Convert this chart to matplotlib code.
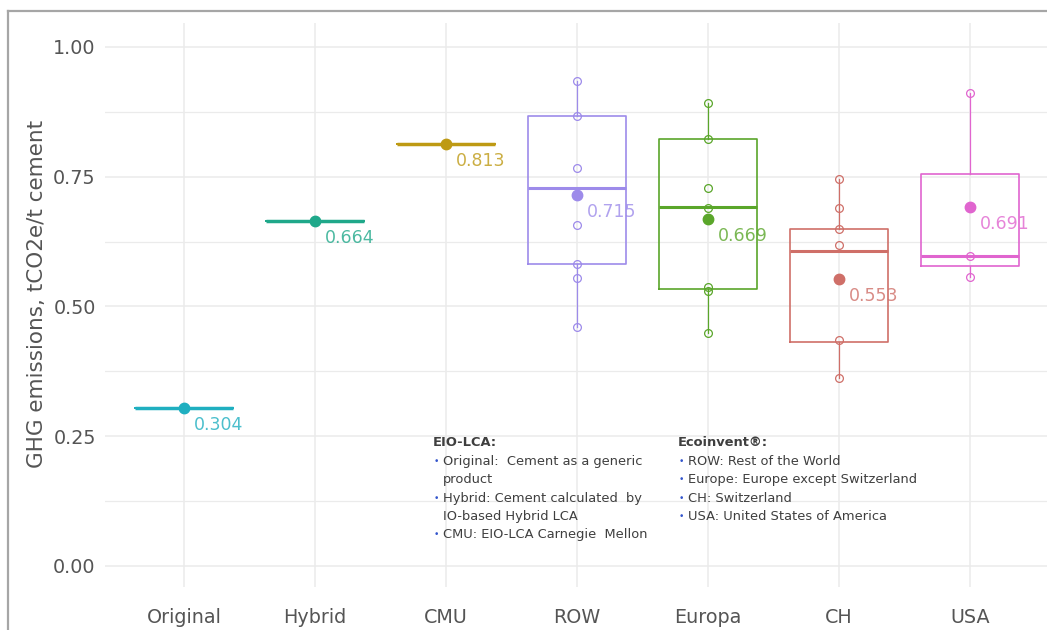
import matplotlib
matplotlib.use("Agg")
import matplotlib.pyplot as plt
from matplotlib.lines import Line2D
from matplotlib.colors import to_rgba

# ---- data -------------------------------------------------------------
categories = ["Original", "Hybrid", "CMU", "ROW", "Europa", "CH", "USA"]
means = [0.304, 0.664, 0.813, 0.715, 0.669, 0.553, 0.691]

box_q1 = [0.304, 0.664, 0.813, 0.582, 0.533, 0.431, 0.577]
box_median = [0.304, 0.664, 0.813, 0.728, 0.691, 0.606, 0.597]
box_q3 = [0.304, 0.664, 0.813, 0.866, 0.822, 0.649, 0.755]
whisker_low = [0.304, 0.664, 0.813, 0.461, 0.448, 0.362, 0.556]
whisker_high = [0.304, 0.664, 0.813, 0.935, 0.891, 0.746, 0.911]

pts_original = [0.304]
pts_hybrid = [0.664]
pts_cmu = [0.813]
pts_row = [0.935, 0.866, 0.766, 0.657, 0.582, 0.554, 0.461]
pts_europa = [0.891, 0.822, 0.729, 0.689, 0.538, 0.529, 0.448]
pts_ch = [0.746, 0.689, 0.649, 0.618, 0.435, 0.362]
pts_usa = [0.911, 0.597, 0.556]
points = [pts_original, pts_hybrid, pts_cmu, pts_row, pts_europa, pts_ch, pts_usa]

colors = ["#1FAFC0", "#1FA88A", "#BE9A14", "#9D8BEA", "#5AA62A", "#CF6F68", "#E065CF"]

y_ticks = [0.00, 0.25, 0.50, 0.75, 1.00]
y_minor = [0.125, 0.375, 0.625, 0.875]
y_label = "GHG emissions, tCO2e/t cement"

eio_header = "EIO-LCA:"
eio_lines = [("Original:  Cement as a generic", True), ("product", False),
             ("Hybrid: Cement calculated  by", True), ("IO-based Hybrid LCA", False),
             ("CMU: EIO-LCA Carnegie  Mellon", True)]
eco_header = "Ecoinvent®:"
eco_lines = [("ROW: Rest of the World", True), ("Europe: Europe except Switzerland", True),
             ("CH: Switzerland", True), ("USA: United States of America", True)]

# ---- figure -----------------------------------------------------------
W, H = 1047, 630
plt.rcParams["font.family"] = ["DejaVu Sans"]
fig = plt.figure(figsize=(W / 100, H / 100), dpi=100)
fig.patch.set_facecolor("white")

ax = fig.add_axes([105.4 / W, 43 / H, 943.2 / W, 564 / H])
ax.set_xlim(0.4, 7.6)
ax.set_ylim(-0.0405, 1.046)
for s in ax.spines.values():
    s.set_visible(False)

grid_c = "#EBEBEB"
for y in y_ticks:
    ax.axhline(y, color=grid_c, lw=1.1, zorder=0)
for y in y_minor:
    ax.axhline(y, color=grid_c, lw=0.9, zorder=0)
xs = list(range(1, len(categories) + 1))
for x in xs:
    ax.axvline(x, color=grid_c, lw=1.1, zorder=0)

# boxes built from the summary arrays
for i, x in enumerate(xs):
    c = colors[i]
    flat = box_q1[i] == box_q3[i]
    stats = [dict(med=box_median[i], q1=box_q1[i], q3=box_q3[i],
                  whislo=whisker_low[i], whishi=whisker_high[i], fliers=[])]
    ax.bxp(stats, positions=[x], widths=0.75, showcaps=False, showfliers=False,
           boxprops=dict(color=c, lw=1.2),
           medianprops=dict(color=c, lw=2.5 if flat else 2.2),
           whiskerprops=dict(color=c, lw=0.9),
           manage_ticks=False, zorder=2)
    ax.plot([x] * len(points[i]), points[i], "o", ms=5.6, mfc="none",
            mec=c, mew=0.9, zorder=3)
    ax.plot([x], [means[i]], "o", ms=7.5, color=c, zorder=4)
    ax.annotate(f"{means[i]:.3f}", (x, means[i]), xytext=(35, -17),
                textcoords="offset pixels", ha="center", va="center",
                fontsize=12.5, color=to_rgba(c, 0.8), zorder=5)

ax.set_xticks(xs)
ax.set_xticklabels(categories)
ax.set_yticks(y_ticks)
ax.set_yticklabels([f"{v:.2f}" for v in y_ticks])
ax.tick_params(axis="both", length=0, colors="#555555", labelsize=13.8)
ax.tick_params(axis="x", pad=15)
ax.tick_params(axis="y", pad=7)

fig.text(37 / W, 1 - 294 / H, y_label, rotation=90, ha="center", va="center",
         fontsize=15.5, color="#555555")

# explanatory notes
def note_block(x_head, x_bullet, x_text, header, lines):
    fig.text(x_head / W, 1 - 442 / H, header, fontsize=9.4, fontweight="bold",
             color="#3F3F3F", ha="left", va="center")
    y = 461.7
    for txt, bullet in lines:
        if bullet:
            fig.text(x_bullet / W, 1 - y / H, "•", fontsize=6.5, color="#3355CC",
                     ha="left", va="center")
        fig.text(x_text / W, 1 - y / H, txt, fontsize=9.4, color="#3F3F3F",
                 ha="left", va="center")
        y += 18.3

note_block(433, 434, 443, eio_header, eio_lines)
note_block(678, 679, 688, eco_header, eco_lines)

# outer frame
frame_c = "#A6A6A6"
fig.add_artist(Line2D([8 / W, 8 / W], [0, 1 - 11 / H], color=frame_c, lw=1.6,
                      transform=fig.transFigure))
fig.add_artist(Line2D([8 / W, 1], [1 - 11 / H, 1 - 11 / H], color=frame_c, lw=1.6,
                      transform=fig.transFigure))

fig.savefig("out.png", dpi=100, facecolor="white")
